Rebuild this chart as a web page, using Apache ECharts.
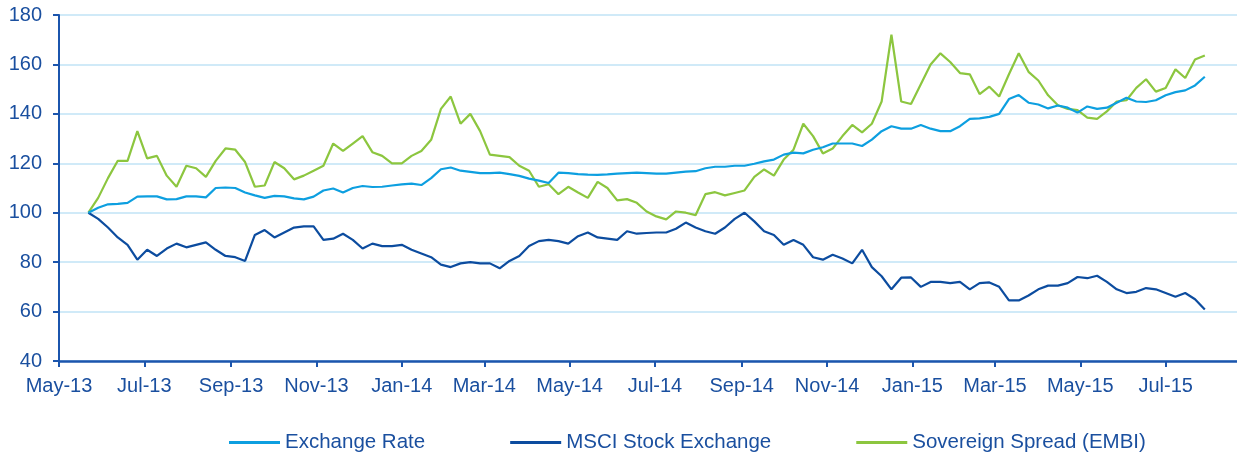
<!DOCTYPE html>
<html>
<head>
<meta charset="utf-8">
<script src="https://cdn.jsdelivr.net/npm/echarts@6/dist/echarts.min.js"></script>
<style>
  html, body { margin: 0; padding: 0; background: #fff; }
  #chart { width: 1237px; height: 455px; }
</style>
</head>
<body>
<div id="chart"></div>
<script>
// weekly observations, first one on 22 May 2013 (index = 100)
var startDate = [2013, 4, 22];
var stepDays = 7;

var exchangeRate = [
  100, 102, 103.4, 103.6, 104, 106.5, 106.6, 106.6, 105.4, 105.5, 106.6, 106.6, 106.2, 110, 110.2,
  110, 108.2, 107, 106, 106.8, 106.6, 105.8, 105.4, 106.5, 109, 109.8, 108.2, 110, 110.8, 110.4,
  110.5, 111, 111.5, 111.8, 111.2, 114, 117.6, 118.3, 117, 116.5, 116, 116, 116.2, 115.6, 114.9,
  113.8, 113, 112, 116.2, 116, 115.6, 115.4, 115.3, 115.5, 115.8, 116, 116.2, 116, 115.8, 115.8,
  116.2, 116.6, 116.8, 118, 118.6, 118.6, 119, 119, 119.8, 120.8, 121.5, 123.5, 124.3, 124, 125.5,
  126.5, 128, 128, 128, 127, 129.6, 133, 135, 134, 134, 135.5, 134, 133, 133, 135,
  138, 138.2, 138.8, 140, 146, 147.6, 144.5, 143.8, 142.2, 143.4, 142.5, 140.5, 143, 142, 142.5,
  144.5, 146.5, 145, 144.8, 145.5, 147.5, 148.8, 149.5, 151.5, 155
];

var msciStock = [
  100, 97.5, 94, 90, 87, 81, 85, 82.5, 85.5, 87.5, 86, 87, 88, 85, 82.5,
  82, 80.5, 91, 93, 90, 92, 94, 94.5, 94.5, 89, 89.5, 91.5, 89, 85.5, 87.5,
  86.5, 86.5, 87, 85, 83.5, 82, 79, 78, 79.5, 80, 79.5, 79.5, 77.5, 80.5, 82.5,
  86.5, 88.5, 89, 88.5, 87.5, 90.5, 92, 90, 89.5, 89, 92.5, 91.5, 91.8, 92, 92,
  93.5, 96, 94, 92.5, 91.5, 94, 97.5, 100, 96.5, 92.5, 91, 87, 89, 87, 82,
  81, 83, 81.5, 79.5, 85, 78, 74.3, 69, 73.7, 73.8, 70, 72, 72, 71.5, 72,
  69, 71.5, 71.8, 70, 64.5, 64.5, 66.5, 69, 70.5, 70.5, 71.5, 74, 73.5, 74.5, 72,
  69, 67.5, 68, 69.5, 69, 67.5, 66, 67.5, 65, 60.8
];

var sovereignSpread = [
  100, 106, 114, 121, 121, 133, 122, 123, 115, 110.5, 119, 118, 114.5, 121, 126,
  125.5, 120.5, 110.5, 111, 120.5, 118, 113.5, 115, 117, 119, 128, 125, 128, 131, 124.5,
  123, 120, 120, 123, 125, 129.5, 142, 147, 136, 140, 133, 123.5, 123, 122.5, 119,
  117, 110.5, 111.5, 107.5, 110.5, 108.2, 106, 112.5, 110, 105, 105.5, 104, 100.5, 98.5, 97.3,
  100.5, 100, 99, 107.5, 108.3, 107, 108, 109, 114.5, 117.5, 115, 121.5, 125.5, 136, 131,
  124, 126, 131, 135.5, 132.5, 136, 145, 172, 145, 144, 152, 160, 164.5, 161, 156.5,
  156, 148, 151, 147, 156, 164.5, 157, 153.5, 147.5, 143.5, 142, 141.5, 138.5, 138, 141,
  145, 145.5, 150.5, 154, 149, 150.5, 158, 154.5, 162, 163.6
];

var tickLabels = ['May-13', 'Jul-13', 'Sep-13', 'Nov-13', 'Jan-14', 'Mar-14', 'May-14',
  'Jul-14', 'Sep-14', 'Nov-14', 'Jan-15', 'Mar-15', 'May-15', 'Jul-15'];
var tickMonths = [
  [2013, 4], [2013, 6], [2013, 8], [2013, 10], [2014, 0], [2014, 2], [2014, 4],
  [2014, 6], [2014, 8], [2014, 10], [2015, 0], [2015, 2], [2015, 4], [2015, 6]
];
var yTicks = [40, 60, 80, 100, 120, 140, 160, 180];

(function() {
  var ink = '#1a4f9f';
  var axisBlue = '#1b55ad';
  var gridBlue = '#c0e3f6';
  var font = "'Liberation Sans', Arial, sans-serif";
  var DAY = 86400000;

  // x is measured in days since 1 May 2013 so the axis stays a plain value axis
  var origin = Date.UTC(2013, 4, 1);
  function dayNum(y, m, d) {
    return Math.round((Date.UTC(y, m, d) - origin) / DAY);
  }
  function pairs(values) {
    var d0 = dayNum(startDate[0], startDate[1], startDate[2]);
    return values.map(function(v, i) { return [d0 + i * stepDays, v]; });
  }

  var tickValues = tickMonths.map(function(m) { return dayNum(m[0], m[1], 1); });

  var chart = echarts.init(document.getElementById('chart'), null, { renderer: 'canvas' });
  chart.setOption({
    animation: false,
    textStyle: { fontFamily: font },
    legend: {
      data: ['Exchange Rate', 'MSCI Stock Exchange', 'Sovereign Spread (EMBI)'],
      left: 224,
      top: 427,
      icon: 'rect',
      itemWidth: 51,
      itemHeight: 3,
      itemGap: 85,
      textStyle: { color: ink, fontSize: 20.5, fontFamily: font }
    },
    grid: { left: 59, right: 0, top: 15, bottom: 94 },
    xAxis: {
      type: 'value',
      min: 0,
      max: dayNum(2015, 7, 21),
      axisLine: { lineStyle: { color: axisBlue, width: 2.5 } },
      axisTick: { show: true, length: 6, customValues: tickValues, lineStyle: { color: axisBlue, width: 2 } },
      axisLabel: {
        customValues: tickValues,
        color: ink,
        fontSize: 20,
        margin: 15,
        formatter: function(v) {
          var k = tickValues.indexOf(v);
          return k >= 0 ? tickLabels[k] : '';
        }
      },
      splitLine: { show: false }
    },
    yAxis: {
      type: 'value',
      min: yTicks[0],
      max: yTicks[yTicks.length - 1],
      interval: 20,
      axisLine: { show: true, lineStyle: { color: axisBlue, width: 2 } },
      axisTick: { show: true, length: 6, lineStyle: { color: axisBlue, width: 2 } },
      axisLabel: { color: ink, fontSize: 20, margin: 17 },
      splitLine: { lineStyle: { color: gridBlue, width: 1.5 } }
    },
    series: [
      {
        name: 'Exchange Rate',
        type: 'line',
        data: pairs(exchangeRate),
        showSymbol: false,
        lineStyle: { color: '#0d9fe0', width: 2.2 },
        itemStyle: { color: '#0d9fe0' },
        z: 3
      },
      {
        name: 'MSCI Stock Exchange',
        type: 'line',
        data: pairs(msciStock),
        showSymbol: false,
        lineStyle: { color: '#0c4c9f', width: 2.2 },
        itemStyle: { color: '#0c4c9f' },
        z: 2
      },
      {
        name: 'Sovereign Spread (EMBI)',
        type: 'line',
        data: pairs(sovereignSpread),
        showSymbol: false,
        lineStyle: { color: '#8cc63f', width: 2.2 },
        itemStyle: { color: '#8cc63f' },
        z: 1
      }
    ]
  });
  window.addEventListener('resize', function() { chart.resize(); });
})();
</script>
</body>
</html>
